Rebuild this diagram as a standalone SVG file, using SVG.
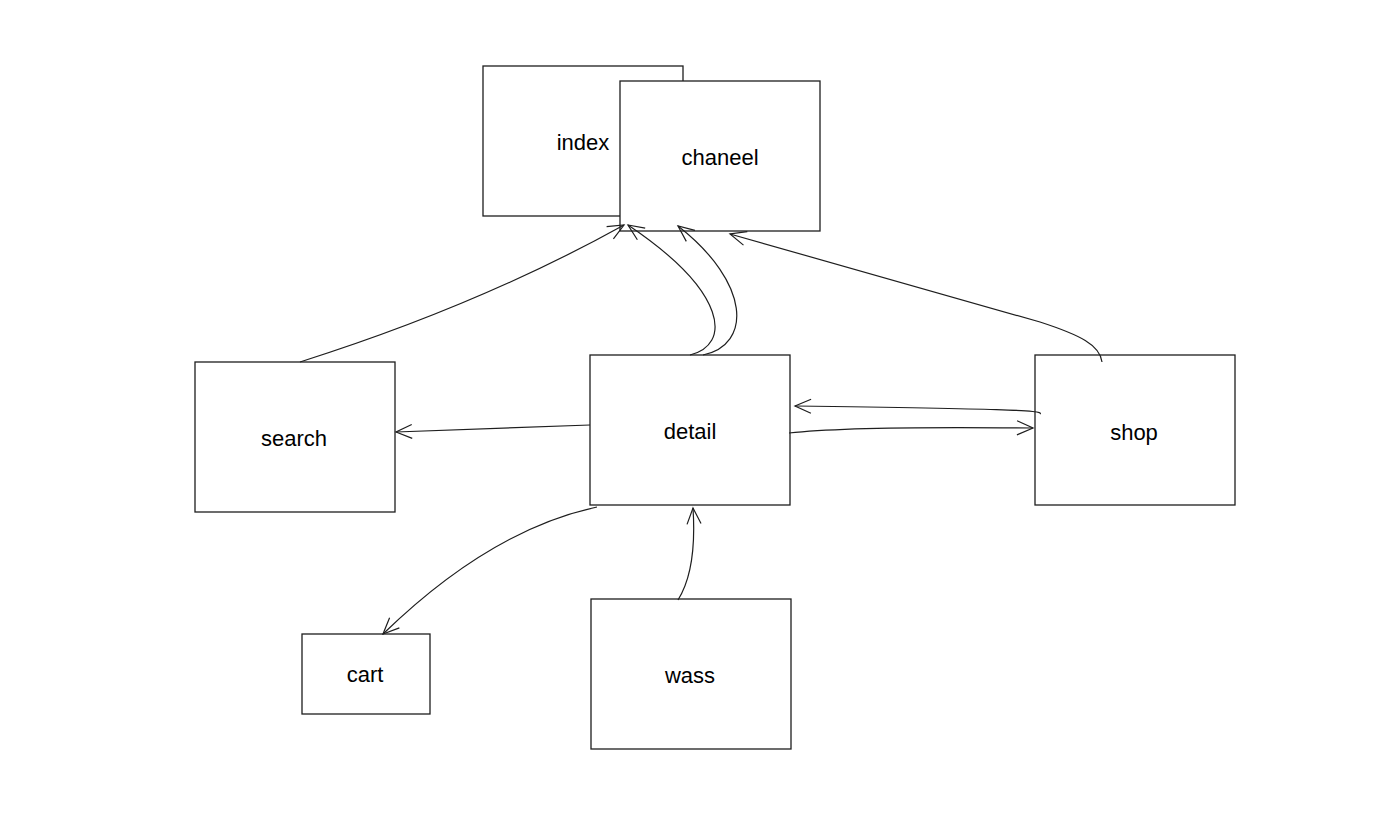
<svg xmlns="http://www.w3.org/2000/svg" width="1378" height="830" viewBox="0 0 1378 830">
<style>
.box{fill:#ffffff;stroke:#1e1e1e;stroke-width:1.3;}
.lbl{font-family:"Liberation Sans","DejaVu Sans",sans-serif;font-size:22px;fill:#000;text-anchor:middle;dominant-baseline:central;}
.edge{fill:none;stroke:#1e1e1e;stroke-width:1.2;marker-end:url(#arr);}
</style>
<defs>
<marker id="arr" viewBox="0 0 20 20" refX="18" refY="10" markerWidth="20" markerHeight="20" markerUnits="userSpaceOnUse" orient="auto">
<path d="M2,3 L18,10 L2,17" fill="none" stroke="#1e1e1e" stroke-width="1.2"/>
</marker>
</defs>
<rect width="1378" height="830" fill="#ffffff"/>
<g id="index"><rect class="box" x="483" y="66" width="200" height="150"/><text class="lbl" x="583" y="142">index</text></g>
<g id="chaneel"><rect class="box" x="620" y="81" width="200" height="150"/><text class="lbl" x="720" y="157">chaneel</text></g>
<g id="search"><rect class="box" x="195" y="362" width="200" height="150"/><text class="lbl" x="294" y="438">search</text></g>
<g id="detail"><rect class="box" x="590" y="355" width="200" height="150"/><text class="lbl" x="690" y="431">detail</text></g>
<g id="shop"><rect class="box" x="1035" y="355" width="200" height="150"/><text class="lbl" x="1134" y="432">shop</text></g>
<g id="cart"><rect class="box" x="302" y="634" width="128" height="80"/><text class="lbl" x="365" y="674">cart</text></g>
<g id="wass"><rect class="box" x="591" y="599" width="200" height="150"/><text class="lbl" x="690" y="675">wass</text></g>
<g id="connectors">
<path class="edge" d="M300,362 Q480,305 624,225"/>
<path class="edge" d="M690,355 C731,345 729,293 628,225"/>
<path class="edge" d="M703,355 C752,345 751,283 678,226"/>
<path class="edge" d="M1102,362 C1100,345 1080,335 1040,322 L730,234"/>
<path class="edge" d="M1040,414 C1045,410 1000,409 795,406"/>
<path class="edge" d="M789,433 Q850,426 1033,428"/>
<path class="edge" d="M590,425 L396,432"/>
<path class="edge" d="M597,507 Q490,530 383,634"/>
<path class="edge" d="M678,600 Q697,570 693,508"/>
</g>
</svg>
